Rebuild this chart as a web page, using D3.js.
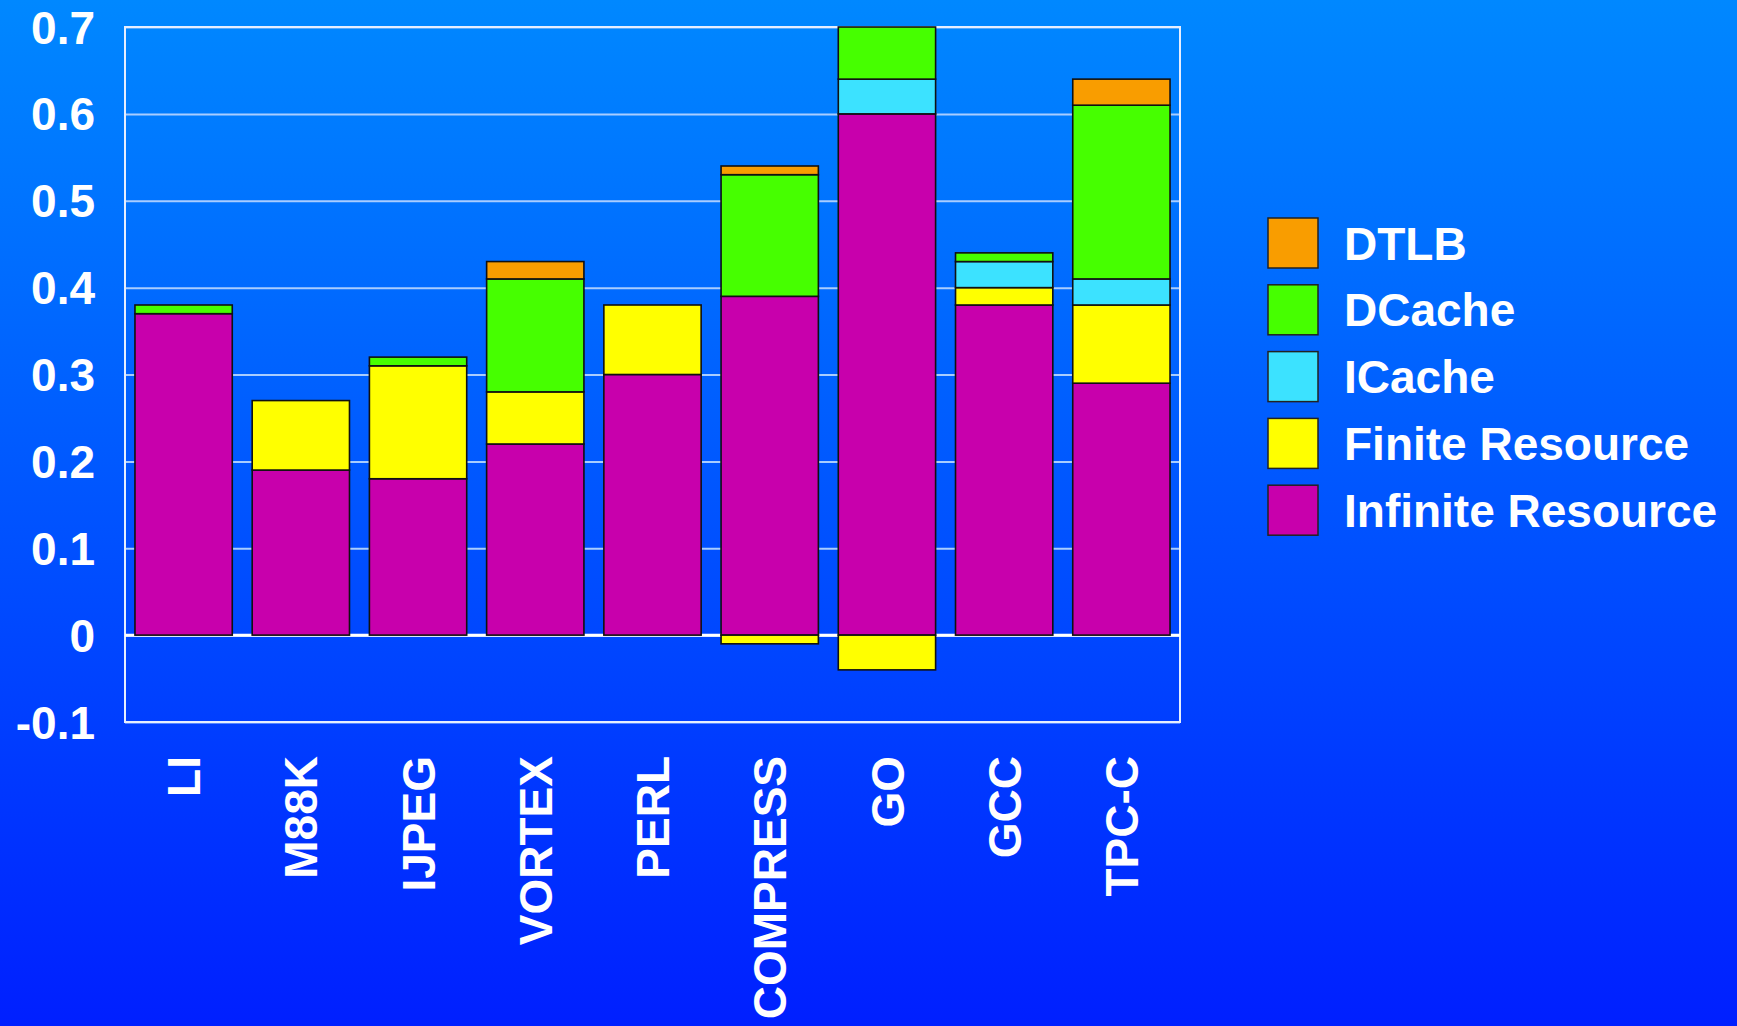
<!DOCTYPE html>
<html>
<head>
<meta charset="utf-8">
<script src="https://cdn.jsdelivr.net/npm/d3@7"></script>
<style>
  html, body { margin: 0; padding: 0; overflow: hidden; }
  text { font-family: "Liberation Sans", Arial, sans-serif; font-weight: bold; }
</style>
</head>
<body>
<svg id="chart" width="1737" height="1026"></svg>
<script>
// benchmarks along the x axis
var benchmarks = ["LI", "M88K", "IJPEG", "VORTEX", "PERL", "COMPRESS", "GO", "GCC", "TPC-C"];

// series values, one per benchmark
var infiniteResource = [0.37, 0.19, 0.18, 0.22, 0.30, 0.39, 0.60, 0.38, 0.29];
var finiteResource   = [0.00, 0.08, 0.13, 0.06, 0.08, -0.01, -0.04, 0.02, 0.09];
var iCache           = [0.00, 0.00, 0.00, 0.00, 0.00, 0.00, 0.04, 0.03, 0.03];
var dCache           = [0.01, 0.00, 0.01, 0.13, 0.00, 0.14, 0.06, 0.01, 0.20];
var dtlb             = [0.00, 0.00, 0.00, 0.02, 0.00, 0.01, 0.00, 0.00, 0.03];

// series names, bottom of the stack first
var seriesNames = ["Infinite Resource", "Finite Resource", "ICache", "DCache", "DTLB"];
var seriesColors = ["#c800ac", "#ffff00", "#3ce2ff", "#46ff00", "#f99d00"];

// y ticks
var tickValues = [-0.1, 0, 0.1, 0.2, 0.3, 0.4, 0.5, 0.6, 0.7];
var tickLabels = ["-0.1", "0", "0.1", "0.2", "0.3", "0.4", "0.5", "0.6", "0.7"];

//build rows for d3.stack
var seriesValues = [infiniteResource, finiteResource, iCache, dCache, dtlb];
var rows = benchmarks.map(function(b, i){
	var r = {name: b};
	seriesNames.forEach(function(s, j){ r[s] = seriesValues[j][i]; });
	return r;
});

var svg = d3.select("#chart");

//---------------- background gradient ----------------
var grad = svg.append("defs").append("linearGradient")
	.attr("id", "bg").attr("x1", 0).attr("y1", 0).attr("x2", 0).attr("y2", 1);
grad.append("stop").attr("offset", "0%").attr("stop-color", "#0088ff");
grad.append("stop").attr("offset", "100%").attr("stop-color", "#001fff");
svg.append("rect").attr("width", 1737).attr("height", 1026).attr("fill", "url(#bg)");

//---------------- scales ----------------
var plotLeft = 125, plotRight = 1180, plotTop = 27, plotBottom = 722;

var x = d3.scaleBand()
	.domain(benchmarks)
	.range([plotLeft, plotRight])
	.paddingInner(0.17)
	.paddingOuter(0.085);

var y = d3.scaleLinear()
	.domain([-0.1, 0.7])
	.range([plotBottom, plotTop]);

//gridlines
svg.append("g")
	.attr("transform", "translate(" + plotLeft + ",0)")
	.call(d3.axisLeft(y).tickValues(tickValues).tickSize(-(plotRight - plotLeft)).tickFormat(""))
	.call(function(g){
		g.select(".domain").remove();
		g.selectAll("line").attr("stroke", "#a9cdff").attr("stroke-width", 2);
	});

//frame
svg.append("rect")
	.attr("x", plotLeft).attr("y", plotTop)
	.attr("width", plotRight - plotLeft).attr("height", plotBottom - plotTop)
	.attr("fill", "none").attr("stroke", "#e6eeff").attr("stroke-width", 2);

//zero line
svg.append("line")
	.attr("x1", plotLeft).attr("x2", plotRight)
	.attr("y1", y(0)).attr("y2", y(0))
	.attr("stroke", "#ffffff").attr("stroke-width", 3);

//---------------- bars ----------------
var stack = d3.stack()
	.keys(seriesNames)
	.offset(d3.stackOffsetDiverging);
var layers = stack(rows);

svg.append("g").selectAll("g")
	.data(layers)
	.enter().append("g")
		.attr("fill", function(d, i){ return seriesColors[i]; })
	.selectAll("rect")
	.data(function(d){ return d.filter(function(p){ return p[1] - p[0] !== 0; }); })
	.enter().append("rect")
		.attr("x", function(d){ return x(d.data.name); })
		.attr("y", function(d){ return y(Math.max(d[0], d[1])); })
		.attr("width", x.bandwidth())
		.attr("height", function(d){ return Math.abs(y(d[0]) - y(d[1])); })
		.attr("stroke", "#111")
		.attr("stroke-width", 1.6);

//---------------- axes ----------------
svg.append("g")
	.attr("transform", "translate(" + (plotLeft - 30) + ",0)")
	.call(d3.axisLeft(y).tickValues(tickValues).tickSize(0).tickFormat(function(d, i){ return tickLabels[i]; }))
	.call(function(g){
		g.select(".domain").remove();
		g.selectAll("text")
			.attr("fill", "#fff")
			.attr("font-size", "46px")
			.attr("x", 0)
			.attr("dy", "0.35em");
	});

svg.append("g")
	.attr("transform", "translate(0," + (plotBottom + 34) + ")")
	.call(d3.axisBottom(x).tickSize(0))
	.call(function(g){
		g.select(".domain").remove();
		g.selectAll("text")
			.attr("fill", "#fff")
			.attr("font-size", "46px")
			.attr("transform", "rotate(-90)")
			.attr("text-anchor", "end")
			.attr("x", 0)
			.attr("y", 0)
			.attr("dy", "0.36em");
	});

//---------------- legend ----------------
var legendNames = seriesNames.slice().reverse();
var legendColors = seriesColors.slice().reverse();
var legend = svg.append("g").attr("transform", "translate(1268,218)");
legendNames.forEach(function(name, i){
	var row = legend.append("g").attr("transform", "translate(0," + (i * 66.8) + ")");
	row.append("rect")
		.attr("width", 50).attr("height", 50)
		.attr("fill", legendColors[i])
		.attr("stroke", "#222").attr("stroke-width", 1.5);
	row.append("text")
		.attr("x", 76).attr("y", 25).attr("dy", "0.36em")
		.attr("fill", "#fff")
		.attr("font-size", "46px")
		.text(name);
});
</script>
</body>
</html>
